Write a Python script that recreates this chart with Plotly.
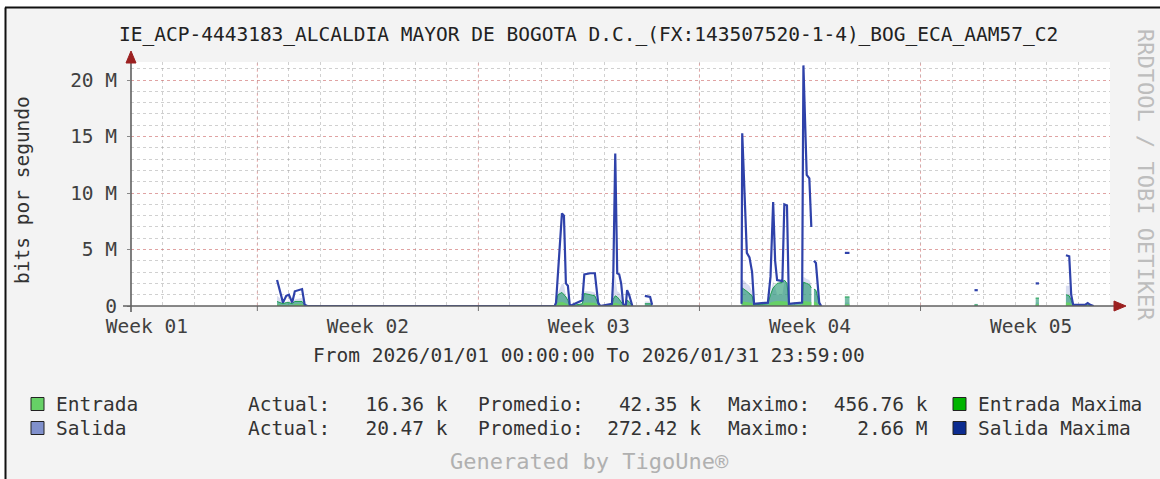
import plotly.graph_objects as go

# ---------------- data (Mbit/s) ----------------
times = [
    "2026-01-05 15:00", "2026-01-05 17:00", "2026-01-05 19:30", "2026-01-05 22:00",
    "2026-01-06 00:00", "2026-01-06 02:30", "2026-01-06 04:30", "2026-01-06 10:00",
    "2026-01-06 12:00", "2026-01-06 14:00",
    "2026-01-14 10:00", "2026-01-14 11:00", "2026-01-14 12:30", "2026-01-14 15:30",
    "2026-01-14 17:00", "2026-01-14 18:30", "2026-01-14 20:00", "2026-01-14 21:30",
    "2026-01-15 07:00", "2026-01-15 08:30", "2026-01-15 13:00", "2026-01-15 16:30",
    "2026-01-15 19:00", "2026-01-15 20:30",
    "2026-01-16 05:30", "2026-01-16 06:30", "2026-01-16 08:00", "2026-01-16 09:30",
    "2026-01-16 11:00", "2026-01-16 12:30", "2026-01-16 14:00", "2026-01-16 16:00",
    "2026-01-16 17:00", "2026-01-16 18:30", "2026-01-16 21:00", "2026-01-17 03:00",
    "2026-01-17 06:30", "2026-01-17 10:30", "2026-01-17 12:00", "2026-01-17 14:00",
    "2026-01-20 08:00", "2026-01-20 08:30", "2026-01-20 12:00", "2026-01-20 14:00",
    "2026-01-20 16:00", "2026-01-20 17:30",
    "2026-01-21 04:00", "2026-01-21 06:00", "2026-01-21 08:00", "2026-01-21 09:30",
    "2026-01-21 11:00", "2026-01-21 15:00", "2026-01-21 16:30", "2026-01-21 18:30",
    "2026-01-21 20:00",
    "2026-01-22 06:00", "2026-01-22 07:00", "2026-01-22 09:30", "2026-01-22 11:30",
    "2026-01-22 13:00", "2026-01-22 14:00", "2026-01-22 15:00", "2026-01-22 16:30",
    "2026-01-22 19:00", "2026-01-22 20:30", "2026-01-22 22:00",
    "2026-01-23 14:30", "2026-01-23 18:00", "2026-01-23 20:00",
    "2026-01-27 17:00", "2026-01-27 19:30", "2026-01-27 21:00",
    "2026-01-29 15:30", "2026-01-29 18:00", "2026-01-29 20:00",
    "2026-01-30 14:30", "2026-01-30 17:00", "2026-01-30 18:30", "2026-01-30 20:00",
    "2026-01-31 05:00", "2026-01-31 07:00", "2026-01-31 09:00", "2026-01-31 11:30",
]
salida_max = [
    2.3, 1.5, 0.3, 0.9, 1.0, 0.3, 1.3, 1.5, 0.1, 0,
    0, 0.3, 3.0, 8.2, 8.0, 2.0, 1.8, 0,
    0.5, 2.8, 2.9, 2.9, 0.3, 0,
    0.2, 2.6, 13.5, 2.9, 2.8, 2.0, 0.2, 0, 1.4, 1.0, 0, None,
    0.9, 0.8, 0.1, None,
    0.2, 15.3, 4.7, 4.3, 3.0, 0.2,
    0.3, 2.6, 9.2, 4.0, 2.3, 2.2, 9.0, 8.9, 0.2,
    0.3, 21.3, 11.6, 11.3, 7.0, None, 4.0, 3.8, 0.3, 0, None,
    4.7, 4.7, None,
    1.4, 1.4, None,
    2.0, 2.0, None,
    4.5, 4.4, 1.0, 0.1,
    0.1, 0.25, 0.1, 0,
]
salida_avg = [
    0.9, 0.7, 0.2, 0.4, 0.5, 0.2, 0.6, 0.7, 0.05, 0,
    0, 0.1, 1.2, 2.0, 1.9, 0.9, 0.8, 0,
    0.2, 1.3, 1.3, 1.2, 0.1, 0,
    0.1, 1.1, 2.66, 1.3, 1.2, 0.9, 0.1, 0, 0.6, 0.4, 0, None,
    0.4, 0.4, 0.05, None,
    0.1, 2.4, 2.0, 1.8, 1.3, 0.1,
    0.1, 1.1, 2.2, 1.7, 1.0, 1.0, 2.1, 2.1, 0.1,
    0.1, 2.6, 2.4, 2.3, 1.9, None, 1.5, 1.4, 0.1, 0, None,
    0.3, 0.3, None,
    0.2, 0.2, None,
    0.3, 0.3, None,
    1.8, 1.8, 0.5, 0.05,
    0.05, 0.1, 0.05, 0,
]
entrada_max = [
    0.4, 0.3, 0.2, 0.3, 0.3, 0.2, 0.4, 0.4, 0.1, 0,
    0, 0.3, 1.0, 1.2, 1.0, 0.8, 0.5, 0,
    0.2, 1.1, 1.0, 0.9, 0.2, 0,
    0.1, 0.6, 0.9, 0.8, 0.6, 0.4, 0.1, 0, 0.5, 0.4, 0, None,
    0.2, 0.2, 0.1, None,
    0.2, 1.6, 1.3, 1.1, 0.9, 0.1,
    0.2, 1.0, 1.6, 1.8, 2.0, 2.1, 2.3, 2.0, 0.2,
    0.3, 2.1, 2.0, 1.9, 1.6, None, 1.5, 1.4, 0.2, 0, None,
    0.8, 0.8, None,
    0.1, 0.1, None,
    0.7, 0.7, None,
    1.0, 0.9, 0.5, 0.1,
    0.05, 0.1, 0.05, 0,
]
entrada_avg = [
    0.15, 0.10, 0.05, 0.10, 0.10, 0.05, 0.15, 0.15, 0.02, 0,
    0, 0.05, 0.30, 0.35, 0.30, 0.25, 0.15, 0,
    0.05, 0.30, 0.30, 0.28, 0.05, 0,
    0.02, 0.20, 0.30, 0.25, 0.20, 0.10, 0.02, 0, 0.15, 0.10, 0, None,
    0.05, 0.05, 0.02, None,
    0.05, 0.40, 0.35, 0.30, 0.25, 0.02,
    0.05, 0.30, 0.40, 0.42, 0.44, 0.45, 0.457, 0.40, 0.05,
    0.10, 0.45, 0.42, 0.40, 0.35, None, 0.40, 0.35, 0.05, 0, None,
    0.15, 0.15, None,
    0.03, 0.03, None,
    0.15, 0.15, None,
    0.30, 0.30, 0.15, 0.02,
    0.02, 0.03, 0.02, 0,
]

week_label_pos = ["2026-01-01 12:00", "2026-01-08 12:00", "2026-01-15 12:00",
                  "2026-01-22 12:00", "2026-01-29 12:00"]
week_labels = ["Week 01", "Week 02", "Week 03", "Week 04", "Week 05"]
week_starts = ["2026-01-05", "2026-01-12", "2026-01-19", "2026-01-26"]
y_tickvals = [0, 5e6, 10e6, 15e6, 20e6]
y_ticktext = ["0", "5 M", "10 M", "15 M", "20 M"]

title_text = "IE_ACP-4443183_ALCALDIA MAYOR DE BOGOTA D.C._(FX:143507520-1-4)_BOG_ECA_AAM57_C2"
period_text = "From 2026/01/01 00:00:00 To 2026/01/31 23:59:00"
legend_names = ["Entrada", "Salida"]
legend_actual = ["16.36 k", "20.47 k"]
legend_promedio = ["42.35 k", "272.42 k"]
legend_maximo = ["456.76 k", "2.66 M"]
legend_max_names = ["Entrada Maxima", "Salida Maxima"]

COL_E_AVG = "#66d066"
COL_S_AVG = "#8090cc"
COL_E_MAX = "#00b400"
COL_S_MAX = "#0c2c90"


def segments(ts, vals):
    """Split a series at unknown (None) samples into contiguous runs."""
    out, cur_t, cur_v = [], [], []
    for t, v in zip(ts, vals):
        if v is None:
            if cur_t:
                out.append((cur_t, cur_v))
            cur_t, cur_v = [], []
        else:
            cur_t.append(t)
            cur_v.append(v * 1e6)
    if cur_t:
        out.append((cur_t, cur_v))
    return out


def mbit(v):
    return [None if x is None else x * 1e6 for x in v]


# ---------------- geometry helpers ----------------
L, R, T, B = 131, 1110, 62, 306
W, H = 1160, 479


def PX(x):
    return (x - L) / (R - L)


def PY(y):
    return (B - y) / (B - T)


MONO = "DejaVu Sans Mono"
fig = go.Figure()
for st, sv in segments(times, salida_avg):
    fig.add_trace(go.Scatter(x=st, y=sv, mode="lines", fill="tozeroy",
                             line=dict(width=0, color=COL_S_AVG),
                             fillcolor="rgba(128,144,204,0.3)", hoverinfo="skip"))
for st, sv in segments(times, entrada_max):
    fig.add_trace(go.Scatter(x=st, y=sv, mode="lines", fill="tozeroy",
                             line=dict(width=1, color="#20a050"),
                             fillcolor="rgba(30,150,110,0.6)", hoverinfo="skip"))
for st, sv in segments(times, entrada_avg):
    fig.add_trace(go.Scatter(x=st, y=sv, mode="lines", fill="tozeroy",
                             line=dict(width=0, color=COL_E_AVG),
                             fillcolor=COL_E_AVG, hoverinfo="skip"))
fig.add_trace(go.Scatter(x=times, y=mbit(salida_max), mode="lines",
                         line=dict(width=2.2, color="#2f42aa"), hoverinfo="skip"))

shapes = []
# weekly major grid (red) + tick marks
for d in week_starts:
    shapes.append(dict(type="line", xref="x", yref="paper", x0=d, x1=d, y0=0, y1=1,
                       line=dict(color="rgba(255,60,60,0.35)", width=1, dash="dot"),
                       layer="below"))
    shapes.append(dict(type="line", xref="x", yref="paper", x0=d, x1=d, y0=PY(311), y1=0,
                       line=dict(color="#707070", width=1), layer="above"))
# axes
shapes.append(dict(type="line", xref="paper", yref="paper", x0=PX(123), x1=PX(1117),
                   y0=0, y1=0, line=dict(color="#606060", width=1.6), layer="above"))
shapes.append(dict(type="line", xref="paper", yref="paper", x0=0, x1=0,
                   y0=PY(312), y1=PY(60), line=dict(color="#606060", width=1.6), layer="above"))
# arrow heads
shapes.append(dict(type="path", xref="paper", yref="paper",
                   path=f"M {PX(1114)},{PY(301)} L {PX(1126)},{PY(306)} L {PX(1114)},{PY(311)} Z",
                   fillcolor="#9b2020", line=dict(color="#9b2020", width=1), layer="above"))
shapes.append(dict(type="path", xref="paper", yref="paper",
                   path=f"M {PX(126)},{PY(63)} L {PX(131)},{PY(51)} L {PX(136)},{PY(63)} Z",
                   fillcolor="#9b2020", line=dict(color="#9b2020", width=1), layer="above"))
# screenshot frame: white strip + black border
shapes.append(dict(type="rect", xref="paper", yref="paper", x0=PX(-2), x1=PX(5), y0=PY(W), y1=PY(-2),
                   fillcolor="white", line=dict(width=0), layer="above"))
shapes.append(dict(type="rect", xref="paper", yref="paper", x0=PX(-2), x1=PX(W + 2), y0=PY(7), y1=PY(-2),
                   fillcolor="white", line=dict(width=0), layer="above"))
shapes.append(dict(type="line", xref="paper", yref="paper", x0=PX(5.5), x1=PX(5.5), y0=PY(W), y1=PY(7.5),
                   line=dict(color="#111", width=2), layer="above"))
shapes.append(dict(type="line", xref="paper", yref="paper", x0=PX(5), x1=PX(W + 2), y0=PY(7.5), y1=PY(7.5),
                   line=dict(color="#111", width=2), layer="above"))

annotations = []


def txt(x, y, s, size=19.5, color="#333333", xanchor="center", angle=0):
    annotations.append(dict(xref="paper", yref="paper", x=PX(x), y=PY(y), text=s.replace(" ", "\u00a0"),
                            showarrow=False, xanchor=xanchor, yanchor="middle", textangle=angle,
                            font=dict(family=MONO, size=size, color=color), borderpad=0))


txt(588, 34, title_text, color="#222222")
txt(22, 190, "bits por segundo", angle=-90)
txt(589, 355, period_text)
txt(1146, 175, "RRDTOOL / TOBI OETIKER", size=22, color="#bdbdbd", angle=90)
txt(589, 461, "Generated by TigoUne\u00ae", size=22, color="#b0b0b0")

row_y = [404, 428]
box_cols = [COL_E_AVG, COL_S_AVG]
max_cols = [COL_E_MAX, COL_S_MAX]
for i in range(2):
    y = row_y[i]
    shapes.append(dict(type="rect", xref="paper", yref="paper", x0=PX(31), x1=PX(44),
                       y0=PY(y + 6.5), y1=PY(y - 6.5), fillcolor=box_cols[i],
                       line=dict(color="#222", width=1), layer="above"))
    shapes.append(dict(type="rect", xref="paper", yref="paper", x0=PX(953), x1=PX(966),
                       y0=PY(y + 6.5), y1=PY(y - 6.5), fillcolor=max_cols[i],
                       line=dict(color="#222", width=1), layer="above"))
    txt(55, y, legend_names[i], xanchor="left")
    txt(247, y, "Actual:" + f"{legend_actual[i]:>10}", xanchor="left")
    txt(477, y, "Promedio:" + f"{legend_promedio[i]:>10}", xanchor="left")
    txt(727, y, "Maximo:" + f"{legend_maximo[i]:>10}", xanchor="left")
    txt(977, y, legend_max_names[i], xanchor="left")

fig.update_layout(
    width=W, height=H,
    margin=dict(l=L, r=W - R, t=T, b=H - B, pad=0),
    paper_bgcolor="#f3f3f3", plot_bgcolor="white", showlegend=False,
    font=dict(family=MONO, size=19.5, color="#404040"),
    xaxis=dict(type="date", range=["2026-01-01 00:00", "2026-01-31 23:59"],
               tickmode="array", tickvals=week_label_pos, ticktext=week_labels,
               ticks="", showgrid=False, showline=False, zeroline=False,
               ticklabelstandoff=6,
               minor=dict(tickmode="linear", tick0="2026-01-01", dtick=86400000,
                          showgrid=True, gridcolor="rgba(150,150,150,0.45)",
                          griddash="dot", gridwidth=1, ticks="")),
    yaxis=dict(range=[0, 21.6e6], tickmode="array", tickvals=y_tickvals, ticktext=y_ticktext,
               showgrid=True, gridcolor="rgba(255,80,80,0.35)", griddash="dot", gridwidth=1,
               minor=dict(dtick=1e6, showgrid=True, gridcolor="rgba(150,150,150,0.45)",
                          griddash="dot", gridwidth=1, ticks=""),
               zeroline=False, showline=False, ticks="outside", ticklen=3, tickcolor="#888",
               ticklabelstandoff=6),
    shapes=shapes, annotations=annotations,
)

fig.write_html("out.html", config={"displayModeBar": False},
               post_script="document.body.style.margin='0';document.body.style.overflow='hidden';")
